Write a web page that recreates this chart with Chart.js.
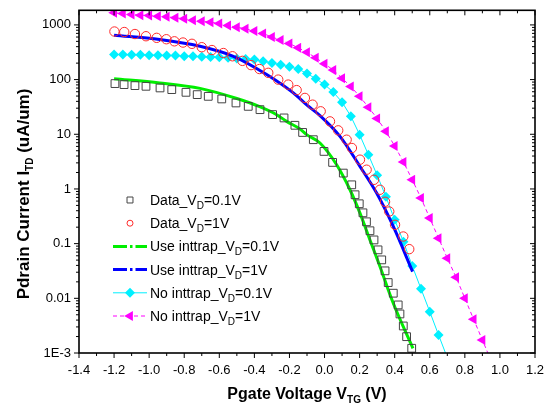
<!DOCTYPE html>
<html><head><meta charset="utf-8">
<script src="https://cdn.jsdelivr.net/npm/chart.js@4.4.1/dist/chart.umd.min.js"></script>
<style>html,body{margin:0;padding:0;background:#fff;}#wrap{width:550px;height:405px;}</style>
</head><body><div id="wrap"><canvas id="c" width="550" height="405"></canvas></div>
<script>
// ---- tick labels ----
const xTickLabels = ['-1.4','-1.2','-1.0','-0.8','-0.6','-0.4','-0.2','0.0','0.2','0.4','0.6','0.8','1.0','1.2'];
const yTickValues = [0.001,0.01,0.1,1,10,100,1000];
const yTickLabels = ['1E-3','0.01','0.1','1','10','100','1000'];

// ---- Data_VD=0.1V (squares) ----
const dataLowV = [-1.195,-1.143,-1.081,-1.018,-0.938,-0.871,-0.79,-0.726,-0.663,-0.586,-0.505,-0.435,-0.368,-0.296,-0.231,-0.169,-0.125,-0.064,-0.003,0.046,0.107,0.155,0.174,0.198,0.219,0.239,0.259,0.282,0.305,0.326,0.345,0.363,0.392,0.42,0.43,0.449,0.468,0.497];
const dataLowI = [84.5,81,77.6,75.4,70.4,65.6,58.5,53.1,49.4,44.3,37.4,32.4,28.2,22.9,19.9,14.6,10.8,7.96,4.86,3.06,1.95,1.19,0.783,0.536,0.366,0.251,0.172,0.117,0.077,0.0505,0.0318,0.0194,0.0124,0.00757,0.00518,0.00312,0.00199,0.00122];

// ---- Data_VD=1V (circles) ----
const dataHighV = [-1.198,-1.142,-1.081,-1.018,-0.957,-0.902,-0.856,-0.807,-0.756,-0.70,-0.642,-0.577,-0.525,-0.468,-0.419,-0.371,-0.321,-0.264,-0.207,-0.159,-0.112,-0.068,-0.022,0.031,0.078,0.126,0.156,0.202,0.24,0.282,0.316,0.345,0.369,0.402,0.449,0.483];
const dataHighI = [757,741,681,621,580,547,501,476,451,391,347,306,267,220,184,156,133,100,81,64.2,46.2,34.8,26.3,17.2,11.8,7.96,5.61,3.43,2.25,1.47,0.967,0.583,0.387,0.221,0.135,0.0793];

// ---- Use inttrap_VD=0.1V (green line) ----
const useLowV = [-1.2,-0.94,-0.71,-0.5,-0.37,-0.273,-0.216,-0.14,-0.102,-0.026,0.069,0.145,0.202,0.259,0.316,0.392,0.504];
const useLowI = [104,87,69,45,32,22.8,17.2,12.5,9.84,6.93,2.77,0.967,0.362,0.117,0.0381,0.00813,0.00122];

// ---- Use inttrap_VD=1V (blue line) ----
const useHighV = [-1.2,-0.94,-0.71,-0.52,-0.33,-0.178,-0.1,-0.026,0.088,0.202,0.297,0.392,0.502];
const useHighI = [648,541,407,267,124,57,34,22,9.16,2.58,0.841,0.206,0.0308];

// ---- No inttrap_VD=0.1V (cyan diamonds) ----
const noLowV = [-1.2,-1.15,-1.1,-1.05,-1.0,-0.95,-0.9,-0.85,-0.8,-0.75,-0.7,-0.65,-0.6,-0.55,-0.5,-0.45,-0.4,-0.35,-0.3,-0.25,-0.2,-0.15,-0.1,-0.05,0.0,0.05,0.1,0.15,0.2,0.25,0.3,0.35,0.4,0.45,0.5,0.55,0.6,0.65,0.7];
const noLowI = [287,287,285,284,279,279,277,275,268,267,263,260,256,250,242,239,232,216,202,186,172,156,129,104,81,59,38.7,21.3,9.84,4.23,1.78,0.72,0.273,0.108,0.0392,0.0149,0.0057,0.00214,0.00082];

// ---- No inttrap_VD=1V (magenta triangles) ----
const noHighV = [-1.2,-1.15,-1.1,-1.05,-1.0,-0.95,-0.9,-0.85,-0.8,-0.75,-0.7,-0.65,-0.6,-0.55,-0.5,-0.45,-0.4,-0.35,-0.3,-0.25,-0.2,-0.15,-0.1,-0.05,0.0,0.05,0.1,0.15,0.2,0.25,0.3,0.35,0.4,0.45,0.5,0.55,0.6,0.65,0.7,0.75,0.8,0.85,0.9,0.95];
const noHighI = [1667,1617,1550,1506,1486,1443,1407,1349,1294,1219,1169,1120,1061,975,908,849,773,695,600,528,456,381,316,250,195,149,106,74.5,49.4,31.3,19.5,11.3,6.11,3.12,1.47,0.681,0.293,0.126,0.0542,0.0243,0.01,0.00414,0.00173,0.00072];

const legendParts = [
  ['Data_V','D','=0.1V'],
  ['Data_V','D','=1V'],
  ['Use inttrap_V','D','=0.1V'],
  ['Use inttrap_V','D','=1V'],
  ['No inttrap_V','D','=0.1V'],
  ['No inttrap_V','D','=1V']
];

const FONT = 'Arial, "Liberation Sans", sans-serif';
const C_SQ = '#444444', C_CI = '#ff2a2a', C_GR = '#00ee00', C_BL = '#0000ff', C_CY = '#00f0ff', C_MG = '#ff00ff';

const pts = (xs, ys) => xs.map((v, i) => ({x: v, y: ys[i]}));

function drawMarker(ctx, style, cx, cy, r, stroke, fill) {
  ctx.beginPath();
  if (style === 'rect') { const s = r * Math.SQRT1_2; ctx.rect(cx - s, cy - s, 2 * s, 2 * s); }
  else if (style === 'circle') ctx.arc(cx, cy, r, 0, Math.PI * 2);
  else if (style === 'diamond') { ctx.moveTo(cx - r, cy); ctx.lineTo(cx, cy - r); ctx.lineTo(cx + r, cy); ctx.lineTo(cx, cy + r); ctx.closePath(); }
  else if (style === 'triLeft') { ctx.moveTo(cx - r, cy); ctx.lineTo(cx + r / 2, cy - r * 0.866); ctx.lineTo(cx + r / 2, cy + r * 0.866); ctx.closePath(); }
  if (fill) { ctx.fillStyle = fill; ctx.fill(); }
  if (stroke) { ctx.strokeStyle = stroke; ctx.lineWidth = 1; ctx.stroke(); }
}

function drawSubText(ctx, parts, x, y, mainFont, subFont, subDy, align) {
  ctx.font = mainFont; const w0 = ctx.measureText(parts[0]).width;
  const w2 = ctx.measureText(parts[2]).width;
  ctx.font = subFont; const w1 = ctx.measureText(parts[1]).width;
  const total = w0 + w1 + w2;
  let sx = align === 'center' ? x - total / 2 : x;
  ctx.textAlign = 'left'; ctx.textBaseline = 'alphabetic';
  ctx.font = mainFont; ctx.fillText(parts[0], sx, y);
  ctx.font = subFont; ctx.fillText(parts[1], sx + w0, y + subDy);
  ctx.font = mainFont; ctx.fillText(parts[2], sx + w0 + w1, y);
}

const framePlugin = {
  id: 'frame',
  afterDatasetsDraw(chart) {
    const {ctx, chartArea: a, scales: {x, y}} = chart;
    const line = (x1, y1, x2, y2) => { ctx.beginPath(); ctx.moveTo(x1, y1); ctx.lineTo(x2, y2); ctx.stroke(); };
    ctx.save();
    ctx.strokeStyle = '#000';
    ctx.lineWidth = 1;
    const xv = xTickLabels.map(Number);
    xv.forEach((v, i) => {
      const px = x.getPixelForValue(v);
      line(px, a.bottom, px, a.bottom + 5); line(px, a.top, px, a.top + 5);
      if (i < xv.length - 1) {
        const m = x.getPixelForValue((v + xv[i + 1]) / 2);
        line(m, a.bottom, m, a.bottom + 3); line(m, a.top, m, a.top + 3);
      }
    });
    yTickValues.forEach(v => {
      const py = y.getPixelForValue(v);
      line(a.left - 5, py, a.left, py); line(a.right - 5, py, a.right, py);
      for (let k = 2; k <= 9; k++) {
        const mv = v * k; if (mv > y.max) break;
        const p = y.getPixelForValue(mv);
        line(a.left - 3, p, a.left, p); line(a.right - 3, p, a.right, p);
      }
    });
    ctx.lineWidth = 1.6;
    ctx.strokeRect(a.left, a.top, a.right - a.left, a.bottom - a.top);

    // axis titles
    ctx.fillStyle = '#000';
    drawSubText(ctx, ['Pgate Voltage V', 'TG', ' (V)'], (a.left + a.right) / 2, 399,
      'bold 16px ' + FONT, 'bold 10px ' + FONT, 4, 'center');
    ctx.save();
    ctx.translate(29, 194);
    ctx.rotate(-Math.PI / 2);
    drawSubText(ctx, ['Pdrain Current I', 'TD', ' (uA/um)'], 0, 0,
      'bold 17px ' + FONT, 'bold 10px ' + FONT, 4, 'center');
    ctx.restore();

    // legend
    const lx1 = 113, lx2 = 147, mx = 130, tx = 150, y0 = 200, dy = 23.2;
    legendParts.forEach((parts, i) => {
      const ry = y0 + i * dy;
      ctx.save();
      if (i === 0) drawMarker(ctx, 'rect', mx, ry, 4.2, C_SQ, null);
      if (i === 1) drawMarker(ctx, 'circle', mx, ry, 3, C_CI, null);
      if (i === 2 || i === 3) {
        ctx.strokeStyle = i === 2 ? C_GR : C_BL; ctx.lineWidth = 3;
        ctx.setLineDash([14, 3, 2.5, 3]); line(lx1, ry, lx2, ry);
      }
      if (i === 4) {
        ctx.strokeStyle = C_CY; ctx.lineWidth = 1; line(lx1, ry, lx2, ry);
        drawMarker(ctx, 'diamond', mx, ry, 5, null, C_CY);
      }
      if (i === 5) {
        ctx.strokeStyle = C_MG; ctx.lineWidth = 1; ctx.setLineDash([4, 3]); line(lx1, ry, lx2, ry);
        ctx.setLineDash([]);
        drawMarker(ctx, 'triLeft', mx, ry, 5.8, null, C_MG);
      }
      ctx.restore();
      ctx.fillStyle = '#000';
      drawSubText(ctx, parts, tx, ry + 5, '14px ' + FONT, '10px ' + FONT, 4, 'left');
    });
    ctx.restore();
  }
};

const zeroPad = s => { s.paddingTop = 0; s.paddingBottom = 0; s.paddingLeft = 0; s.paddingRight = 0; };

new Chart(document.getElementById('c'), {
  type: 'line',
  data: {
    datasets: [
      { label: 'Data_VD=0.1V', data: pts(dataLowV, dataLowI), showLine: false, pointStyle: 'rect',
        pointRadius: 5.5, pointBorderColor: C_SQ, pointBackgroundColor: 'rgba(0,0,0,0)', pointBorderWidth: 1, borderColor: C_SQ, clip: 0 },
      { label: 'Data_VD=1V', data: pts(dataHighV, dataHighI), showLine: false, pointStyle: 'circle',
        pointRadius: 4.7, pointBorderColor: C_CI, pointBackgroundColor: 'rgba(0,0,0,0)', pointBorderWidth: 1, borderColor: C_CI, clip: 0 },
      { label: 'Use inttrap_VD=0.1V', data: pts(useLowV, useLowI), pointRadius: 0, borderColor: C_GR, borderWidth: 3,
        cubicInterpolationMode: 'monotone', clip: 0 },
      { label: 'Use inttrap_VD=1V', data: pts(useHighV, useHighI), pointRadius: 0, borderColor: C_BL, borderWidth: 3,
        cubicInterpolationMode: 'monotone', clip: 0 },
      { label: 'No inttrap_VD=0.1V', data: pts(noLowV, noLowI), borderColor: C_CY, borderWidth: 1, pointStyle: 'rectRot',
        pointRadius: 5, pointBackgroundColor: C_CY, pointBorderColor: C_CY, pointBorderWidth: 0, clip: 0 },
      { label: 'No inttrap_VD=1V', data: pts(noHighV, noHighI), borderColor: C_MG, borderWidth: 1, borderDash: [4, 3],
        pointStyle: 'triangle', pointRotation: -90, pointRadius: 5.8, pointBackgroundColor: C_MG, pointBorderColor: C_MG,
        pointBorderWidth: 0, clip: 0 }
    ]
  },
  options: {
    responsive: false, animation: false, devicePixelRatio: 1,
    layout: { padding: { left: 0, top: 10.3, right: 15, bottom: 0 } },
    plugins: { legend: { display: false }, tooltip: { enabled: false } },
    elements: { line: { tension: 0 } },
    scales: {
      x: {
        type: 'linear', min: -1.4, max: 1.2,
        grid: { display: false, drawTicks: false }, border: { display: false },
        afterBuildTicks: s => { s.ticks = xTickLabels.map(t => ({ value: parseFloat(t) })); },
        afterFit: s => { s.height = 52; zeroPad(s); },
        ticks: { autoSkip: false, maxRotation: 0, minRotation: 0, padding: 10, color: '#000',
          font: { family: FONT, size: 13 }, callback: (v, i) => xTickLabels[i] }
      },
      y: {
        type: 'logarithmic', min: 0.001, max: 1850,
        grid: { display: false, drawTicks: false }, border: { display: false },
        afterBuildTicks: s => { s.ticks = yTickValues.map(v => ({ value: v })); },
        afterFit: s => { s.width = 79; zeroPad(s); },
        ticks: { autoSkip: false, padding: 8, color: '#000',
          font: { family: FONT, size: 13 }, callback: (v, i) => yTickLabels[i] }
      }
    }
  },
  plugins: [framePlugin]
});
</script>
</body></html>
